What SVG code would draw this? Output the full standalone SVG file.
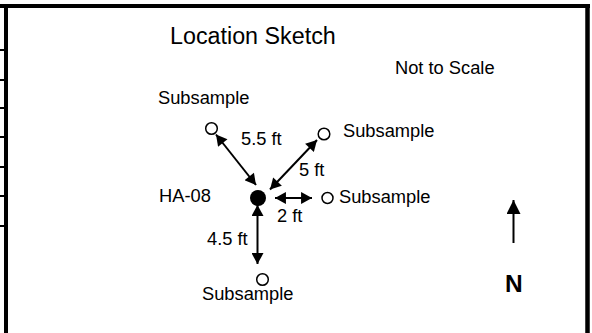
<svg xmlns="http://www.w3.org/2000/svg" width="592" height="333" viewBox="0 0 592 333">
<style>
text{font-family:"Liberation Sans",Arial,sans-serif;fill:#000}
.lbl{font-size:18.3px}
.title{font-size:23.3px}
.n{font-size:24.5px;font-weight:bold}
.sub{fill:#fff;stroke:#000;stroke-width:1.5}
.conn{stroke:#000;stroke-width:2;fill:none}
.frame{stroke:#000;fill:none}
</style>
<defs>
<marker id="ah" markerUnits="userSpaceOnUse" markerWidth="12" markerHeight="12" refX="10" refY="5.5" orient="auto-start-reverse" viewBox="0 0 10 11">
<path d="M0,0 L10,5.5 L0,11 Z" fill="#000"/>
</marker>
<marker id="ahN" markerUnits="userSpaceOnUse" markerWidth="14" markerHeight="14" refX="13" refY="6.5" orient="auto" viewBox="0 0 13 13">
<path d="M0,0 L13,6.5 L0,13 Z" fill="#000"/>
</marker>
</defs>
<rect width="592" height="333" fill="#fff"/>
<g id="frame">
<line class="frame" x1="0" y1="6" x2="590" y2="6" stroke-width="4"/>
<line class="frame" x1="6" y1="4" x2="6" y2="333" stroke-width="4"/>
<line class="frame" x1="587.5" y1="4" x2="587.5" y2="333" stroke-width="4.5"/>
<g stroke="#000" stroke-width="2">
<line x1="0" y1="50" x2="5" y2="50"/>
<line x1="0" y1="80" x2="5" y2="80"/>
<line x1="0" y1="108" x2="5" y2="108"/>
<line x1="0" y1="137" x2="5" y2="137"/>
<line x1="0" y1="167" x2="5" y2="167"/>
<line x1="0" y1="196" x2="5" y2="196"/>
<line x1="0" y1="226" x2="5" y2="226"/>
</g>
</g>
<text class="title" x="170" y="44">Location Sketch</text>
<text class="lbl" x="395" y="74">Not to Scale</text>
<g id="ha08">
<circle cx="258" cy="198" r="8" fill="#000"/>
<text class="lbl" x="159" y="202">HA-08</text>
</g>
<g id="sub-nw">
<circle class="sub" cx="211.5" cy="128.5" r="5.8"/>
<text class="lbl" x="158" y="104">Subsample</text>
</g>
<g id="sub-ne">
<circle class="sub" cx="324" cy="134" r="5.8"/>
<text class="lbl" x="343" y="137">Subsample</text>
</g>
<g id="sub-e">
<circle class="sub" cx="327.5" cy="198" r="5.5"/>
<text class="lbl" x="339" y="203">Subsample</text>
</g>
<g id="sub-s">
<circle class="sub" cx="262.5" cy="279.5" r="5.8"/>
<text class="lbl" x="202" y="300">Subsample</text>
</g>
<g id="connectors">
<line class="conn" x1="216" y1="134.5" x2="256" y2="185" marker-start="url(#ah)" marker-end="url(#ah)"/>
<line class="conn" x1="317" y1="140" x2="270" y2="189.5" marker-start="url(#ah)" marker-end="url(#ah)"/>
<line class="conn" x1="275" y1="198" x2="312" y2="198" marker-start="url(#ah)" marker-end="url(#ah)"/>
<line class="conn" x1="257.5" y1="205" x2="257.5" y2="264" marker-start="url(#ah)" marker-end="url(#ah)"/>
<text class="lbl" x="241" y="145">5.5 ft</text>
<text class="lbl" x="299" y="176">5 ft</text>
<text class="lbl" x="277" y="222">2 ft</text>
<text class="lbl" x="207" y="245">4.5 ft</text>
</g>
<g id="north">
<line class="conn" x1="513.5" y1="243" x2="513.5" y2="200" marker-end="url(#ahN)"/>
<text class="n" x="505" y="291.5">N</text>
</g>
</svg>
